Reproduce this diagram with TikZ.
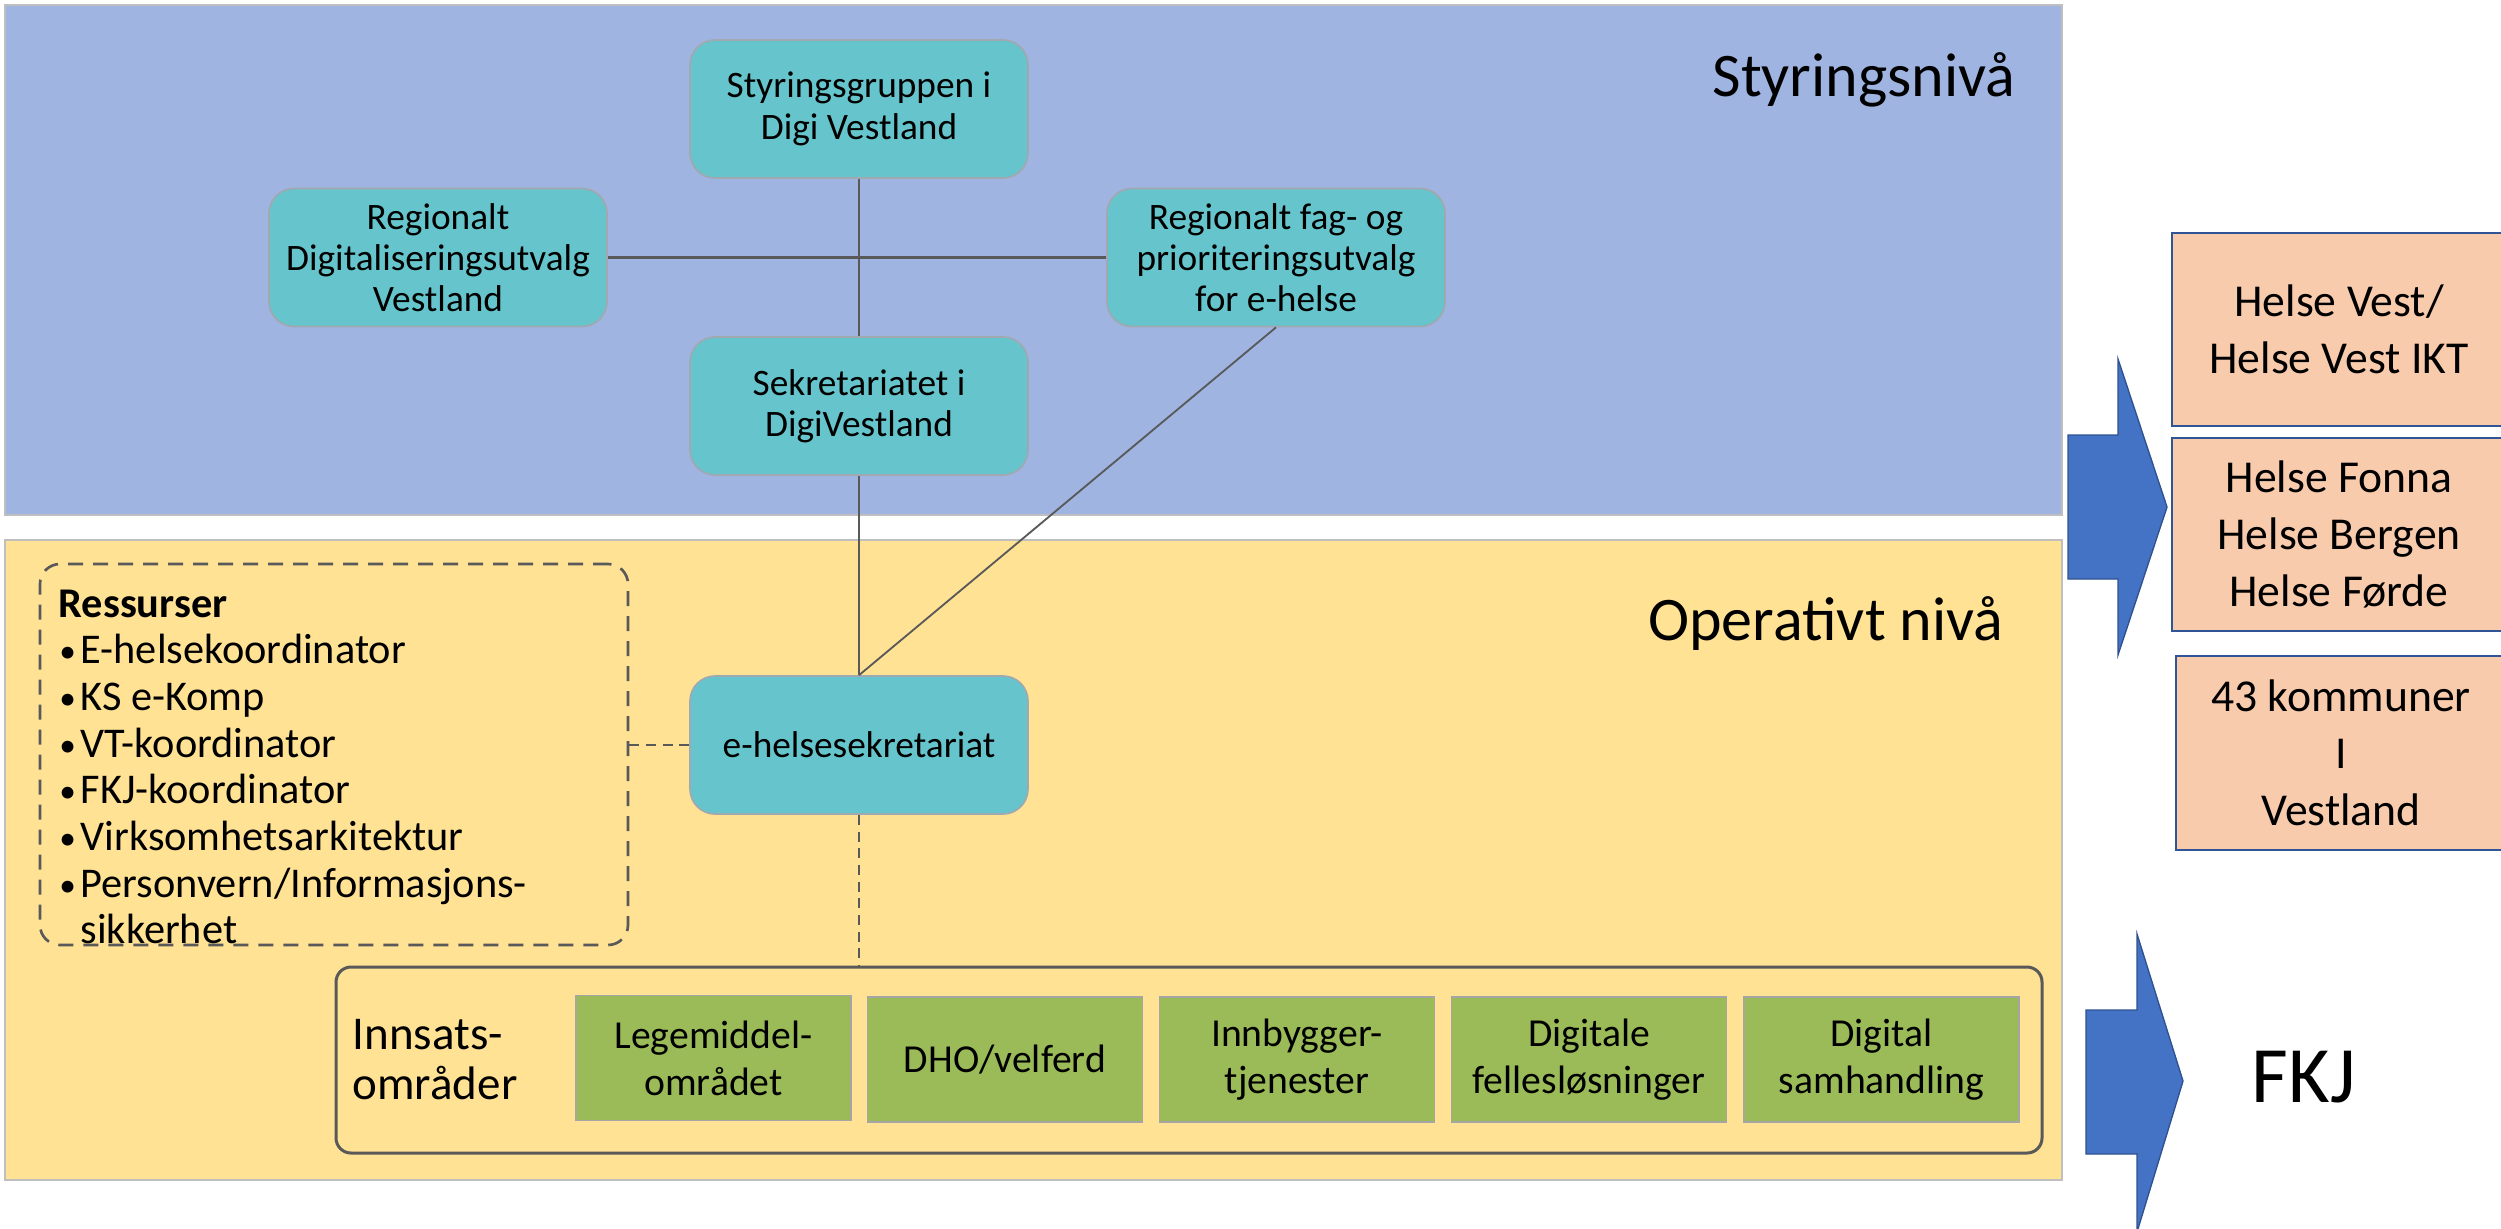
\documentclass[tikz,border=0pt]{standalone}
\usepackage{fontspec}
\setmainfont{Carlito}
\definecolor{bluebg}{HTML}{9FB4E0}
\definecolor{yellowbg}{HTML}{FFE294}
\definecolor{tealfill}{HTML}{66C5CC}
\definecolor{tealborder}{HTML}{A0A8B0}
\definecolor{greenfill}{HTML}{9BBB59}
\definecolor{greenborder}{HTML}{A5A5A5}
\definecolor{peach}{HTML}{F8CBAD}
\definecolor{darkblue}{HTML}{2F5597}
\definecolor{arrowblue}{HTML}{4472C4}
\definecolor{arrowborder}{HTML}{2F528F}
\definecolor{linegray}{HTML}{595959}
\definecolor{panelborder}{HTML}{BFBFBF}
\newcommand{\resbullet}{\makebox[6.6pt][l]{\hspace*{0.2pt}\raisebox{0.3pt}{\fontsize{10}{10}\selectfont•}}}
\begin{document}
\begin{tikzpicture}[x=0.3pt,y=-0.3pt,
  panel/.style={draw=panelborder, line width=0.5pt},
  tealbox/.style={draw=tealborder, fill=tealfill, rounded corners=7.5pt, line width=0.5pt,
    minimum width=101.4pt, minimum height=41.4pt, align=center, inner sep=2pt,
    font=\fontsize{11.2}{12.4}\selectfont},
  greenbox/.style={draw=greenborder, fill=greenfill, line width=0.4pt,
    minimum width=82.5pt, minimum height=37.5pt, align=center, inner sep=2pt,
    font=\fontsize{11.9}{14.1}\selectfont},
  peachbox/.style={draw=darkblue, fill=peach, line width=0.8pt,
    minimum width=100.2pt, align=center, inner sep=2pt,
    font=\fontsize{13.7}{17.1}\selectfont},
  leveltitle/.style={inner sep=0pt, font=\fontsize{18.6}{22}\selectfont},
  conn/.style={draw=linegray, line width=0.55pt},
  thickconn/.style={draw=linegray, line width=0.9pt},
  dashconn/.style={draw=linegray, line width=0.5pt, dash pattern=on 3pt off 2pt},
  bigarrow/.style={fill=arrowblue, draw=arrowborder, line width=0.4pt},
]
\useasboundingbox (0,0) rectangle (2501,1228);
\fill[white] (0,0) rectangle (2501,1228);

% level panels
\draw[panel, fill=bluebg] (5,5) rectangle (2062,515);
\draw[panel, fill=yellowbg] (5,540) rectangle (2062,1180);

\node[leveltitle, anchor=base east] (tstyr) at (2016,96) {Styringsnivå};
\node[leveltitle, anchor=base east] (toper) at (2004,640) {Operativt nivå};

% teal boxes
\node[tealbox] (sg) at (859,109) {Styringsgruppen i\\Digi Vestland};
\node[tealbox] (rd) at (438,257.5) {Regionalt\\Digitaliseringsutvalg\\Vestland};
\node[tealbox] (fag) at (1276,257.5) {Regionalt fag- og\\prioriteringsutvalg\\for e-helse};
\node[tealbox] (sek) at (859,406) {Sekretariatet i\\DigiVestland};
\node[tealbox] (eh) at (859,745) {e-helsesekretariat};

% resources box
\node[draw=linegray, line width=0.8pt, dash pattern=on 4.5pt off 3pt, rounded corners=6pt,
  minimum width=176.4pt, minimum height=114.3pt] (res) at (334,754.5) {};
\node[anchor=north west, inner sep=0pt, align=left,
  font=\fontsize{12.7}{14}\selectfont] (restxt) at (58,589) {%
  \textbf{Ressurser}\\
  \resbullet E-helsekoordinator\\
  \resbullet KS e-Komp\\
  \resbullet VT-koordinator\\
  \resbullet FKJ-koordinator\\
  \resbullet Virksomhetsarkitektur\\
  \resbullet Personvern/Informasjons-\\
  \hspace*{6.6pt}sikkerhet};

% innsatsområder
\node[draw=linegray, line width=0.9pt, rounded corners=4.5pt,
  minimum width=511.8pt, minimum height=55.8pt] (inn) at (1189,1060) {};
\node[anchor=north west, inner sep=0pt, align=left,
  font=\fontsize{14.1}{15}\selectfont] (inntxt) at (352,1019) {Innsats-\\områder};
\node[greenbox] (g1) at (713.5,1058) {Legemiddel-\\området};
\node[greenbox] (g2) at (1005,1059.5) {DHO/velferd};
\node[greenbox] (g3) at (1297,1059.5) {Innbygger-\\tjenester};
\node[greenbox] (g4) at (1589,1059.5) {Digitale\\fellesløsninger};
\node[greenbox] (g5) at (1881.5,1059.5) {Digital\\samhandling};

% connectors
\draw[thickconn] (rd.east) -- (fag.west);
\draw[conn] (sg.south) -- (sek.north);
\draw[conn] (sek.south) -- (eh.north);
\draw[conn] (fag.south) -- (eh.north);
\draw[dashconn] (eh.west -| res.east) -- (eh.west);
\draw[dashconn] (eh.south) -- (eh.south |- inn.north);

% right side
\node[peachbox, minimum height=57.9pt] (hv) at (2339,329.5) {Helse Vest/\\Helse Vest IKT};
\node[peachbox, minimum height=57.9pt] (hf) at (2339,534.5) {Helse Fonna\\Helse Bergen\\Helse Førde};
\node[peachbox, minimum width=99pt, minimum height=58.2pt] (kom) at (2341,753) {43 kommuner\\I\\Vestland};

\draw[bigarrow] (2068,435) -- (2118,435) -- (2118,359) -- (2167,507) -- (2118,655) -- (2118,579) -- (2068,579) -- cycle;
\draw[bigarrow] (2086,1010) -- (2137,1010) -- (2137,934) -- (2183,1081) -- (2137,1232) -- (2137,1154) -- (2086,1154) -- cycle;

\node[inner sep=0pt, anchor=base west, font=\fontsize{24}{28}\selectfont] (fkj) at (2251,1102) {FKJ};
\end{tikzpicture}
\end{document}
